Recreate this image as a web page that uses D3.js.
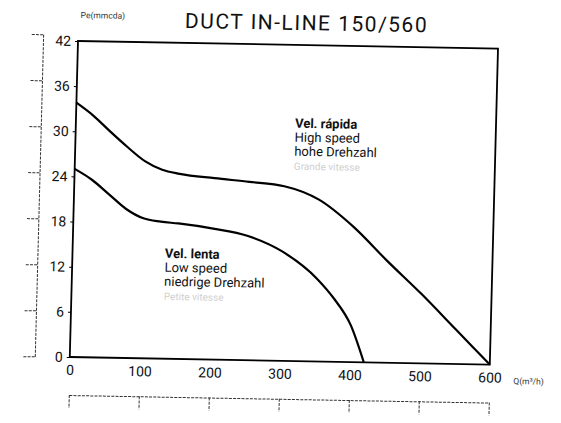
<!DOCTYPE html>
<html>
<head>
<meta charset="utf-8">
<script src="https://cdn.jsdelivr.net/npm/d3@7"></script>
<style>
  html, body { margin: 0; padding: 0; background: #fff; }
  svg { display: block; font-family: Roboto, "DejaVu Sans", sans-serif; }
</style>
</head>
<body>
<svg id="chart" width="561" height="423"></svg>
<script>
// flow Q (m3/h) against static pressure Pe (mm c.d.a.)
var qHigh = [0, 25, 50, 75, 100, 125, 150, 200, 250, 300, 350, 400, 450, 500, 550, 600];
var pHigh = [33.8, 32.1, 30.0, 28.0, 26.2, 25.1, 24.6, 24.1, 23.7, 23.2, 21.5, 18.0, 13.5, 9.2, 4.6, 0];
var qLow = [0, 25, 50, 75, 100, 125, 150, 200, 250, 300, 350, 375, 400, 420];
var pLow = [25.0, 23.6, 21.7, 19.8, 18.6, 18.2, 18.0, 17.4, 16.5, 14.5, 11.0, 8.4, 4.9, 0];

var xTicks = [0, 100, 200, 300, 400, 500, 600];
var yTicks = [0, 6, 12, 18, 24, 30, 36, 42];
var paTicks = [0, 60, 120, 180, 240, 300, 360, 420];

var highLabel = ["Vel. rápida", "High speed", "hohe Drehzahl", "Grande vitesse"];
var lowLabel = ["Vel. lenta", "Low speed", "niedrige Drehzahl", "Petite vitesse"];

var W = 420, H = 316;
var svg = d3.select("#chart");

// the scanned sheet is a bit skewed, so the whole plot sits in a tilted group
var g = svg.append("g")
  .attr("transform", "matrix(1,0.018,-0.026,1,78,41)");

var x = d3.scaleLinear().domain([0, 600]).range([0, W]);
var y = d3.scaleLinear().domain([0, 42]).range([H, 0]);
var yPa = d3.scaleLinear().domain([0, 420]).range([y(0), y(420 / 9.81)]);

// title and units
g.append("text")
  .attr("x", 228).attr("y", -15)
  .attr("text-anchor", "middle")
  .attr("font-size", 21)
  .attr("letter-spacing", 1.5)
  .attr("fill", "#111")
  .text("DUCT IN-LINE 150/560");

g.append("text")
  .attr("x", 2).attr("y", -23)
  .attr("font-size", 8.5)
  .attr("fill", "#333")
  .text("Pe(mmcda)");

g.append("text")
  .attr("x", W + 24).attr("y", H + 19)
  .attr("font-size", 8.5)
  .attr("fill", "#333")
  .text("Q(m³/h)");

// secondary scales (labels lost in the scan)
var sec = g.append("g")
  .attr("transform", "translate(-35,0)")
  .call(d3.axisLeft(yPa).tickValues(paTicks).tickSize(12).tickSizeOuter(0).tickFormat(""));
sec.selectAll("path, line")
  .attr("stroke", "#333")
  .attr("stroke-dasharray", "3,1.2");

var secB = g.append("g")
  .attr("transform", "translate(0," + (H + 38) + ")")
  .call(d3.axisBottom(x).tickValues(xTicks).tickSize(13).tickSizeOuter(0).tickFormat(""));
secB.selectAll("path, line")
  .attr("stroke", "#333")
  .attr("stroke-dasharray", "3,1.2");

// main axes
var ax = g.append("g")
  .call(d3.axisLeft(y).tickValues(yTicks).tickSize(3).tickPadding(4));
ax.select(".domain").remove();
ax.selectAll("text").attr("font-size", 14).attr("fill", "#111").attr("font-family", "Roboto, sans-serif");

var bx = g.append("g")
  .attr("transform", "translate(0," + H + ")")
  .call(d3.axisBottom(x).tickValues(xTicks).tickSize(0).tickPadding(8));
bx.select(".domain").remove();
bx.selectAll("text").attr("font-size", 14).attr("fill", "#111").attr("font-family", "Roboto, sans-serif");

g.append("rect")
  .attr("width", W).attr("height", H)
  .attr("fill", "none")
  .attr("stroke", "#000")
  .attr("stroke-width", 1.8);

// curves
var line = d3.line()
  .x(function (d) { return x(d[0]); })
  .y(function (d) { return y(d[1]); })
  .curve(d3.curveMonotoneX);

[[qHigh, pHigh], [qLow, pLow]].forEach(function (s) {
  g.append("path")
    .datum(d3.zip(s[0], s[1]))
    .attr("fill", "none")
    .attr("stroke", "#000")
    .attr("stroke-width", 2.2)
    .attr("d", line);
});

// curve labels
function addLabel(lines, q, p) {
  var t = g.append("text")
    .attr("x", x(q)).attr("y", y(p))
    .attr("font-size", 13)
    .attr("fill", "#111");
  lines.forEach(function (s, i) {
    t.append("tspan")
      .attr("x", x(q))
      .attr("dy", i ? 14 : 0)
      .attr("font-weight", i ? 400 : 700)
      .attr("fill", i === 3 ? "#cfcfcf" : "#111")
      .attr("font-size", i === 3 ? 10 : 13)
      .text(s);
  });
}
addLabel(highLabel, 313, 31);
addLabel(lowLabel, 132, 13.4);
</script>
</body>
</html>
